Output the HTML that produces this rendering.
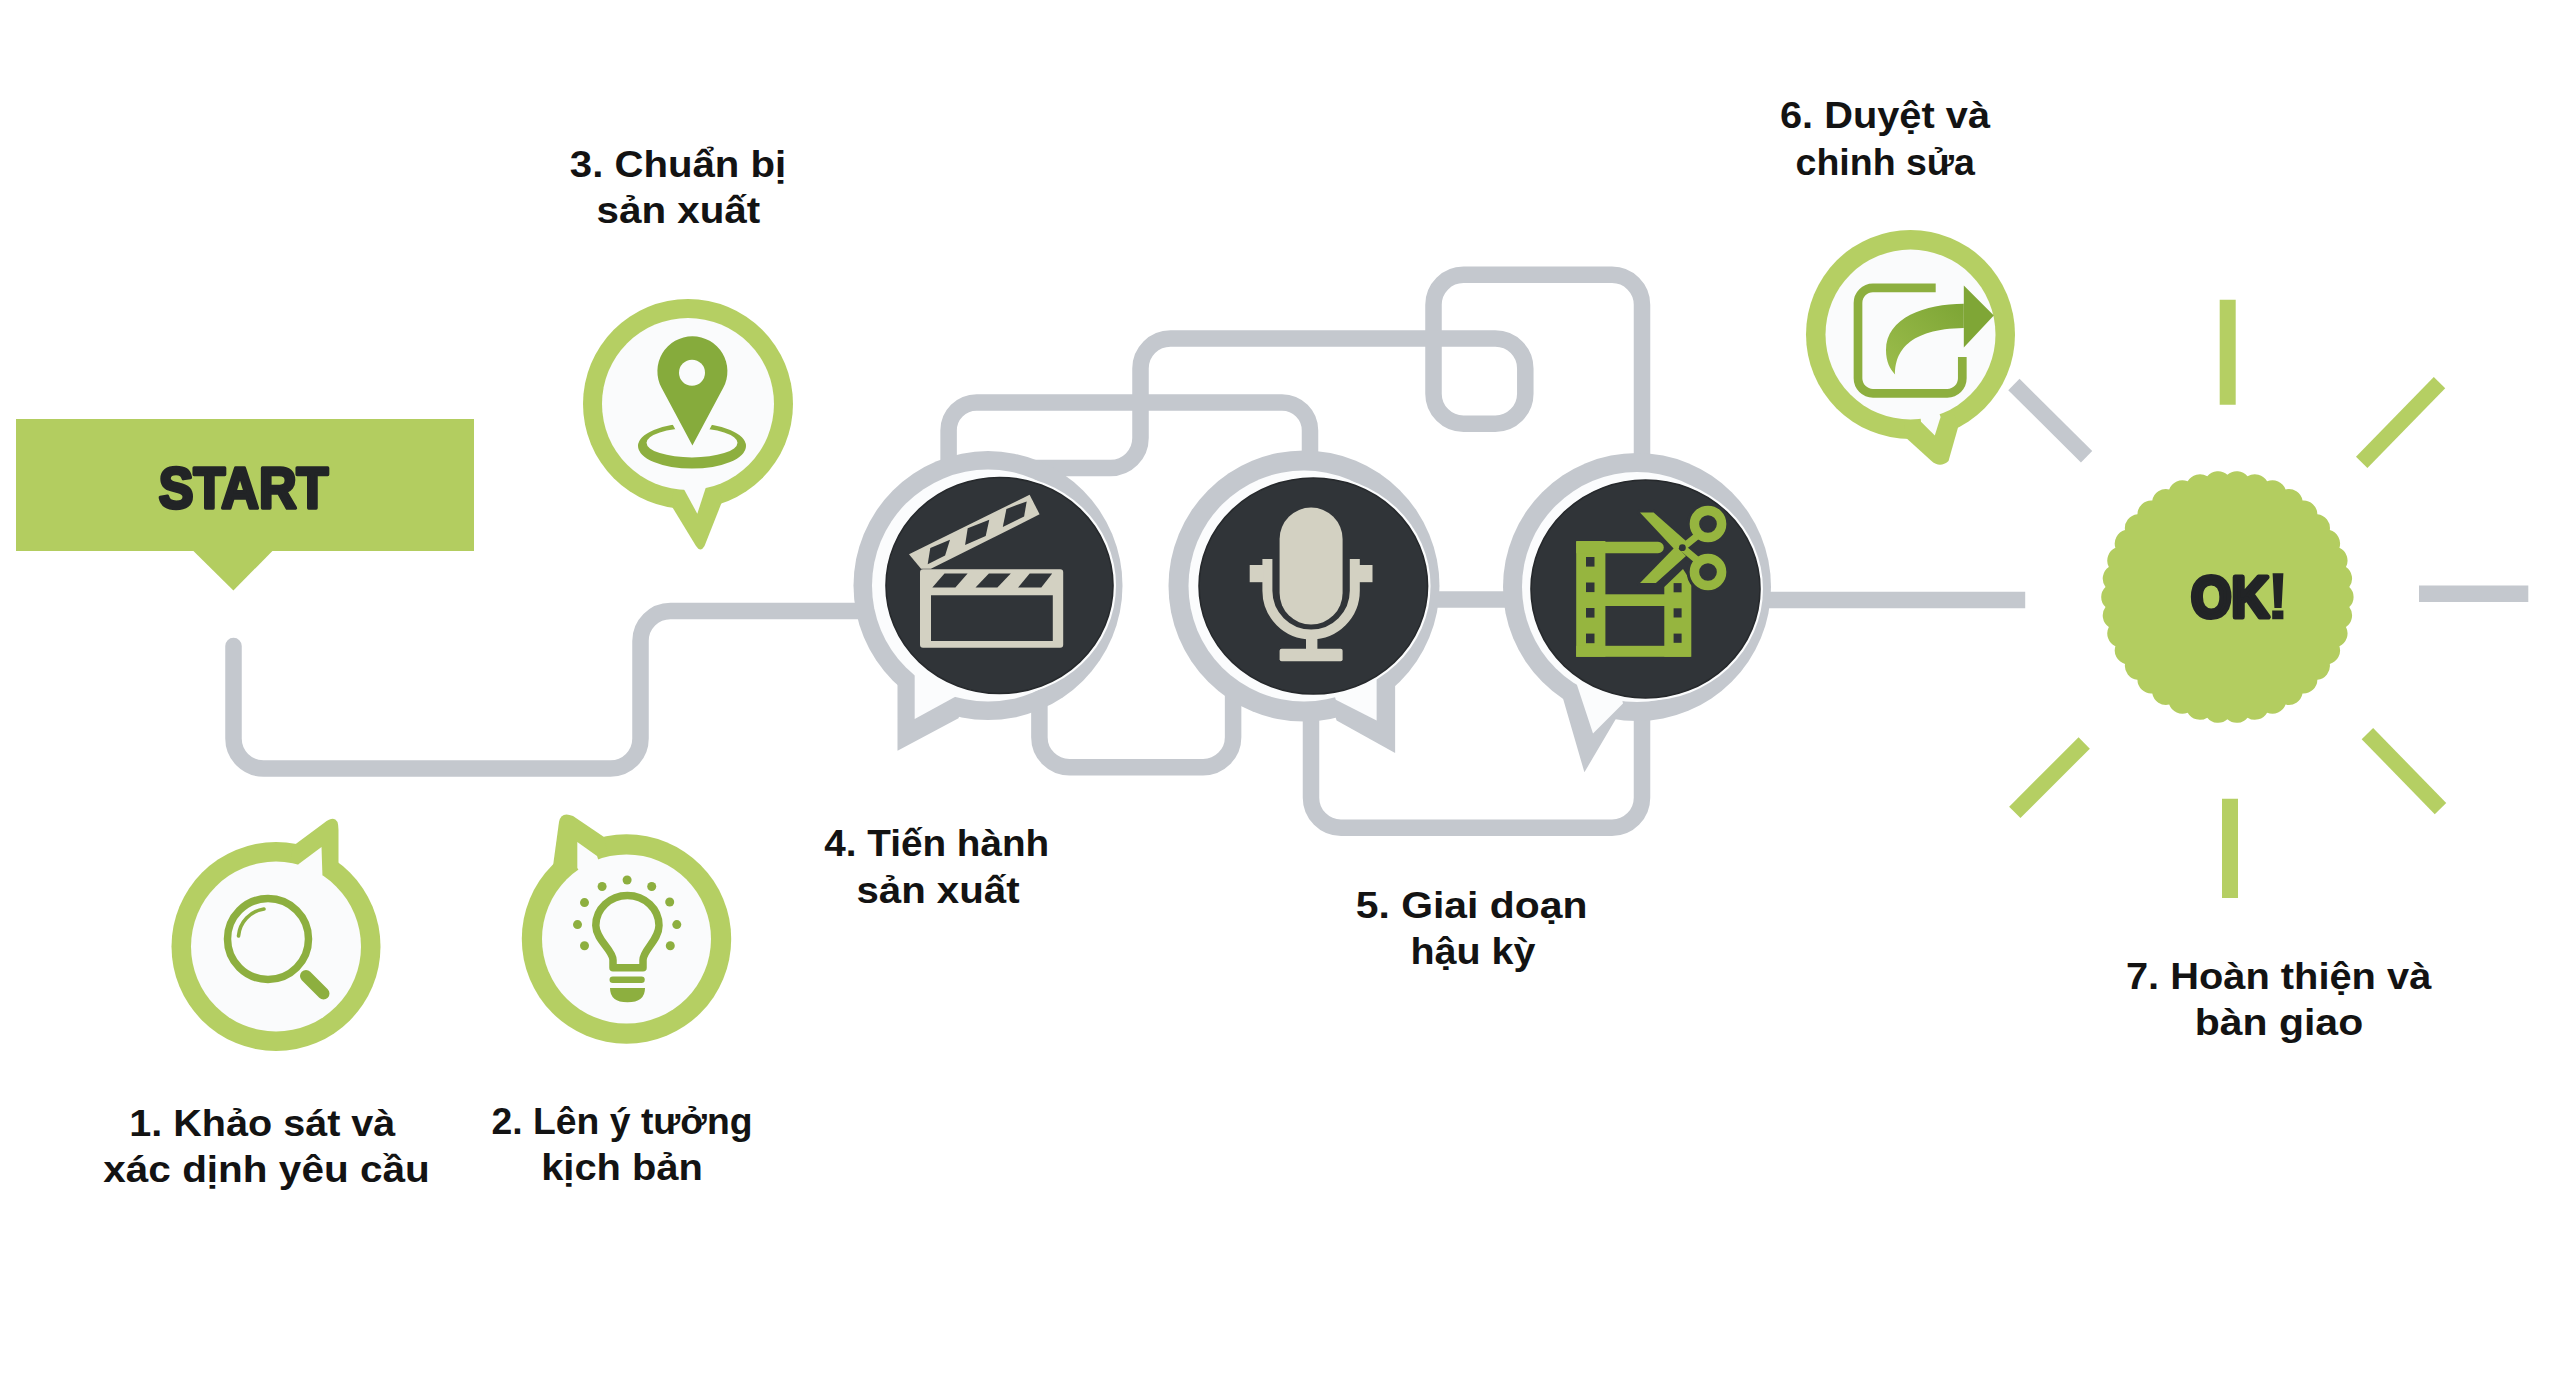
<!DOCTYPE html>
<html><head><meta charset="utf-8"><title>Quy trinh san xuat video</title>
<style>
html,body{margin:0;padding:0;background:#FFFFFF;}
body{width:2560px;height:1396px;overflow:hidden;font-family:"Liberation Sans",sans-serif;}
svg{display:block;}
</style></head><body>
<svg width="2560" height="1396" viewBox="0 0 2560 1396" font-family="'Liberation Sans', sans-serif"><rect x="16" y="419" width="458" height="132" fill="#B3CD60"/>
<path d="M192.4 550 L273.4 550 L233.4 590.5 Z" fill="#B3CD60"/>
<text x="243.5" y="507.7" font-size="57.5" font-weight="bold" text-anchor="middle" fill="#222426" stroke="#222426" stroke-width="3.6" stroke-linejoin="round" textLength="169.4" lengthAdjust="spacingAndGlyphs">START</text>
<path d="M233.5 646 L233.5 738.5 A30 30 0 0 0 263.5 768.5 L610.5 768.5 A30 30 0 0 0 640.5 738.5 L640.5 641 A30 30 0 0 1 670.5 611 L870 611" fill="none" stroke="#C4C8CE" stroke-width="16.5" stroke-linecap="round" stroke-linejoin="round"/>
<path d="M948.6 470 L948.6 430.5 A28 28 0 0 1 976.6 402.5 L1282 402.5 A28 28 0 0 1 1310 430.5 L1310 470" fill="none" stroke="#C4C8CE" stroke-width="16.5" stroke-linecap="butt" stroke-linejoin="round"/>
<path d="M1025 468 L1110.5 468 A30 30 0 0 0 1140.5 438 L1140.5 368.5 A30 30 0 0 1 1170.5 338.5 L1495.3 338.5 A30 30 0 0 1 1525.3 368.5 L1525.3 393.7 A30 30 0 0 1 1495.3 423.7 L1463.5 423.7 A30 30 0 0 1 1433.5 393.7 L1433.5 304.8 A30 30 0 0 1 1463.5 274.8 L1612 274.8 A30 30 0 0 1 1642 304.8 L1642 470" fill="none" stroke="#C4C8CE" stroke-width="16.5" stroke-linecap="butt" stroke-linejoin="round"/>
<path d="M1039.4 690 L1039.4 737.2 A30 30 0 0 0 1069.4 767.2 L1203.1 767.2 A30 30 0 0 0 1233.1 737.2 L1233.1 690" fill="none" stroke="#C4C8CE" stroke-width="16.5" stroke-linecap="butt" stroke-linejoin="round"/>
<path d="M1311 700 L1311 797.7 A30 30 0 0 0 1341 827.7 L1612 827.7 A30 30 0 0 0 1642 797.7 L1642 700" fill="none" stroke="#C4C8CE" stroke-width="16.5" stroke-linecap="butt" stroke-linejoin="round"/>
<path d="M1430 599.5 L1520 599.5" fill="none" stroke="#C4C8CE" stroke-width="16.5" stroke-linecap="butt" stroke-linejoin="round"/>
<path d="M1760 599.9 L2025.2 599.9" fill="none" stroke="#C4C8CE" stroke-width="16.5" stroke-linecap="butt" stroke-linejoin="round"/>
<path d="M2419 593.7 L2528.3 593.7" stroke="#C4C8CE" stroke-width="16.4" fill="none"/>
<path d="M2013.9 384.5 L2086.6 456.7" stroke="#C4C8CE" stroke-width="16" fill="none"/>
<circle cx="988" cy="585.6" r="134.5" fill="#C4C8CE"/>
<path d="M988 585.6 L897.5 680 L897.5 750.8 L958.5 718.2 L965 700 Z" fill="#C4C8CE"/>
<circle cx="988" cy="585.6" r="116" fill="#FBFCFD"/>
<path d="M988 585.6 L914.7 670 L914.7 719.1 L958.5 695 L960 690 Z" fill="#FBFCFD"/>
<ellipse cx="999.5" cy="585.5" rx="116.5" ry="111" fill="#FBFCFD"/>
<ellipse cx="999.5" cy="585.5" rx="113.5" ry="108" fill="#303438" stroke="#26292C" stroke-width="1.6"/>
<circle cx="1304" cy="586" r="135.5" fill="#C4C8CE"/>
<path d="M1304 586 L1395.1 680 L1395.1 753.1 L1336.6 720.5 L1330 700 Z" fill="#C4C8CE"/>
<circle cx="1304" cy="586" r="115.5" fill="#FBFCFD"/>
<path d="M1304 586 L1376.6 675 L1376.6 720.5 L1335.8 699.8 L1333 690 Z" fill="#FBFCFD"/>
<ellipse cx="1313.3" cy="586" rx="117.25" ry="111" fill="#FBFCFD"/>
<ellipse cx="1313.3" cy="586" rx="114.25" ry="108" fill="#303438" stroke="#26292C" stroke-width="1.6"/>
<circle cx="1637" cy="587" r="134" fill="#C4C8CE"/>
<path d="M1637 587 L1562 695 L1584.4 772.3 L1623.9 705.2 L1620 690 Z" fill="#C4C8CE"/>
<circle cx="1637" cy="587" r="115" fill="#FBFCFD"/>
<path d="M1637 587 L1577 685 L1593 733.6 L1623 703.5 L1620 690 Z" fill="#FBFCFD"/>
<ellipse cx="1645.5" cy="589" rx="117.5" ry="112" fill="#FBFCFD"/>
<ellipse cx="1645.5" cy="589" rx="114.5" ry="109" fill="#303438" stroke="#26292C" stroke-width="1.6"/>
<path d="M923 569.2 H1060.2 Q1063.2 569.2 1063.2 572.2 V644.7 Q1063.2 647.7 1060.2 647.7 H923 Q920 647.7 920 644.7 V572.2 Q920 569.2 923 569.2 Z M931 595.3 V641 H1052.8 V595.3 Z" fill="#D3D1C2" fill-rule="evenodd"/><path d="M932.3 587.4 L955.4 587.4 L967.6 573.4 L944.5 573.4 Z" fill="#303438"/><path d="M975.5 587.4 L997.4 587.4 L1010.8 573.4 L988.9 573.4 Z" fill="#303438"/><path d="M1018.1 587.4 L1041.3 587.4 L1052.2 573.4 L1029.7 573.4 Z" fill="#303438"/><path d="M909 554.3 L1029.6 494.7 L1039.6 514.3 L930.9 568.8 L921 568.8 Z" fill="#D3D1C2"/><path d="M927.7 564.3 L930.3 547.9 L950 539.8 L945.1 555.6 Z" fill="#303438"/><path d="M965.1 545 L967.7 528.2 L989.3 519.8 L985.7 535.9 Z" fill="#303438"/><path d="M1002.8 526.9 L1006.4 508.9 L1026.7 501.4 L1024.1 516.6 Z" fill="#303438"/>
<rect x="1279.6" y="507.6" width="63" height="117" rx="31.5" fill="#D3D1C2"/>
<path d="M1267.4 559 V590.8 A43.7 43.7 0 0 0 1354.8 590.8 V559" fill="none" stroke="#D3D1C2" stroke-width="10"/>
<rect x="1249.7" y="565" width="14" height="17.2" fill="#D3D1C2"/>
<rect x="1358.5" y="565" width="14" height="17.2" fill="#D3D1C2"/>
<rect x="1306" y="632" width="11.4" height="18" fill="#D3D1C2"/>
<rect x="1279.6" y="648.7" width="63" height="12.6" rx="2" fill="#D3D1C2"/>
<rect x="1576.2" y="541" width="29.2" height="115.8" fill="#96B53F"/><path d="M1576.2 541.7 H1658 A5.8 5.8 0 0 1 1658 553.3 H1576.2 Z" fill="#96B53F"/><rect x="1605" y="594.3" width="60" height="11.7" fill="#96B53F"/><rect x="1576.2" y="645.8" width="114.5" height="11" fill="#96B53F"/><path d="M1664.3 587 L1683 569 L1691.3 582 L1691.3 656.8 L1664.3 656.8 Z" fill="#96B53F"/><rect x="1586" y="557" width="8.5" height="9.6" fill="#303438"/><rect x="1586" y="582.5" width="8.5" height="9.6" fill="#303438"/><rect x="1586" y="608" width="8.5" height="9.6" fill="#303438"/><rect x="1586" y="633.6" width="8.5" height="9.6" fill="#303438"/><rect x="1673.6" y="583.1" width="8" height="9.2" fill="#303438"/><rect x="1673.6" y="608.3" width="8" height="9.2" fill="#303438"/><rect x="1673.6" y="633.6" width="8" height="9.2" fill="#303438"/><g fill="#303438" stroke="#303438" stroke-width="6" stroke-linejoin="round"><path d="M1640 512.4 L1653.6 512.4 L1686 541 L1676 551 Z"/><path d="M1640 583.1 L1655.9 583.1 L1686 556 L1676 546 Z"/><path d="M1682.4 547.7 L1697 536 M1682.4 547.7 L1697 560" stroke-width="13" fill="none"/><circle cx="1708" cy="524" r="13.6" fill="none" stroke-width="15.5"/><circle cx="1708" cy="572" r="13.6" fill="none" stroke-width="15.5"/></g><g fill="#96B53F" stroke="#96B53F" stroke-width="0"><path d="M1640 512.4 L1653.6 512.4 L1686 541 L1676 551 Z"/><path d="M1640 583.1 L1655.9 583.1 L1686 556 L1676 546 Z"/><path d="M1682.4 547.7 L1697 536 M1682.4 547.7 L1697 560" stroke-width="7" fill="none"/><circle cx="1708" cy="524" r="13.6" fill="none" stroke-width="9.5"/><circle cx="1708" cy="572" r="13.6" fill="none" stroke-width="9.5"/></g><circle cx="1682.4" cy="547.7" r="3.4" fill="#303438"/>
<circle cx="276" cy="946.5" r="104.5" fill="#B5CF63"/>
<path d="M276 946.5 L293 846 L324 823 Q338.5 812 338.5 830 L338.5 866 Z" fill="#B5CF63"/>
<circle cx="276" cy="946.5" r="85" fill="#FAFBFC"/>
<path d="M276 946.5 L298.4 864.2 L321.5 847.1 L322.4 874.2 Z" fill="#FAFBFC"/>
<circle cx="626.5" cy="939" r="104.7" fill="#B5CF63"/>
<path d="M626.5 939 L553 866 L559 822 Q561 811 573 816 L604 837 Z" fill="#B5CF63"/>
<circle cx="626.5" cy="939" r="84.5" fill="#FAFBFC"/>
<path d="M626.5 939 L577.3 868 L577.3 842 L597 856 Z" fill="#FAFBFC"/>
<circle cx="688" cy="404" r="105" fill="#B5CF63"/>
<path d="M688 404 L671 505 L696 546 Q700.5 553 704.5 546 L722.5 500.5 Z" fill="#B5CF63"/>
<circle cx="688" cy="404" r="86" fill="#FAFBFC"/>
<path d="M688 404 L683.7 488.7 L697.3 513.7 L705.9 487.2 Z" fill="#FAFBFC"/>
<circle cx="1910.5" cy="334.5" r="104.5" fill="#B5CF63"/>
<path d="M1910.5 334.5 L1904 436 L1931.5 461 Q1940 468.5 1948.5 461 L1959 424 Z" fill="#B5CF63"/>
<circle cx="1910.5" cy="334.5" r="85" fill="#FAFBFC"/>
<path d="M1910.5 334.5 L1921 421.8 L1934.8 435.4 L1940.6 417 Z" fill="#FAFBFC"/>
<circle cx="268" cy="939" r="40.5" fill="none" stroke="#8DAF3F" stroke-width="7.5"/>
<path d="M238.5 936 A30 30 0 0 1 264 909" fill="none" stroke="#8DAF3F" stroke-width="3.6" stroke-linecap="round"/>
<path d="M306 976 L323.5 993.5" fill="none" stroke="#8DAF3F" stroke-width="12" stroke-linecap="round"/>
<path d="M613 967.7 V960 C613 950 596 940 595.8 925.5 A31.6 30 0 0 1 659 925.5 C659 940 643 950 643 960 V967.7 Z" fill="none" stroke="#8DAF3F" stroke-width="7.5" stroke-linejoin="round"/>
<path d="M612.8 979.8 H641.5" stroke="#8DAF3F" stroke-width="6.5" stroke-linecap="round"/>
<path d="M610 988 H645 Q645 1002.3 627.5 1002.3 Q610 1002.3 610 988 Z" fill="#8DAF3F"/>
<circle cx="627.1" cy="880" r="4.5" fill="#8DAF3F"/>
<circle cx="602.1" cy="886.5" r="4.5" fill="#8DAF3F"/>
<circle cx="651.7" cy="886.5" r="4.5" fill="#8DAF3F"/>
<circle cx="584.5" cy="902.6" r="4.5" fill="#8DAF3F"/>
<circle cx="669.7" cy="902" r="4.5" fill="#8DAF3F"/>
<circle cx="577.5" cy="924.6" r="4.5" fill="#8DAF3F"/>
<circle cx="676.8" cy="924.6" r="4.5" fill="#8DAF3F"/>
<circle cx="584.5" cy="945.7" r="4.5" fill="#8DAF3F"/>
<circle cx="670.3" cy="945.7" r="4.5" fill="#8DAF3F"/>
<path d="M638 446 A54 22.6 0 1 0 746 446 A54 22.6 0 1 0 638 446 Z M646.5 442.8 A45.5 14.6 0 1 1 737.5 442.8 A45.5 14.6 0 1 1 646.5 442.8 Z" fill="#8DAF3F" fill-rule="evenodd"/>
<path d="M661.54 387.81 A35 35 0 1 1 723.26 387.81 L692.4 445.5 Z" fill="#FAFBFC" stroke="#FAFBFC" stroke-width="15" stroke-linejoin="round"/>
<path d="M661.54 387.81 A35 35 0 1 1 723.26 387.81 L692.4 445.5 Z" fill="#86AB3C"/>
<circle cx="692" cy="372.7" r="13" fill="#FAFBFC"/>
<path d="M1935.7 287.9 H1873 A15 15 0 0 0 1858 302.9 V378.3 A15 15 0 0 0 1873 393.3 H1947.3 A15 15 0 0 0 1962.3 378.3 V357" fill="none" stroke="#8DAF3F" stroke-width="8.7"/>
<defs><linearGradient id="ag" x1="0" y1="1" x2="1" y2="0"><stop offset="0" stop-color="#9CBD4C"/><stop offset="1" stop-color="#7DA535"/></linearGradient></defs>
<path d="M1963.8 303.8 C1925 303.8 1886 318 1886 350 C1886 362 1890 369 1895.1 374.4 C1895 352 1908 329 1963.8 328 Z" fill="url(#ag)"/>
<path d="M1963.8 285.4 L1993.8 315.4 L1963.8 347.4 Z" fill="#7FA636"/>
<path d="M2227.7 299.7 L2227.7 404.7" stroke="#B5CF63" stroke-width="16" fill="none"/>
<path d="M2361.7 462.4 L2439.5 382.7" stroke="#B5CF63" stroke-width="16" fill="none"/>
<path d="M2014.8 812.3 L2084.2 743" stroke="#B5CF63" stroke-width="16" fill="none"/>
<path d="M2230 798.75 L2230 898" stroke="#B5CF63" stroke-width="16" fill="none"/>
<path d="M2367.4 733.6 L2440.5 808.6" stroke="#B5CF63" stroke-width="16" fill="none"/>
<path d="M2227.4 474.7 A13.97 13.97 0 0 1 2247.53 476.37 A13.97 13.97 0 0 1 2267.11 481.33 A13.97 13.97 0 0 1 2285.61 489.44 A13.97 13.97 0 0 1 2302.52 500.49 A13.97 13.97 0 0 1 2317.38 514.17 A13.97 13.97 0 0 1 2329.79 530.11 A13.97 13.97 0 0 1 2339.4 547.87 A13.97 13.97 0 0 1 2345.96 566.98 A13.97 13.97 0 0 1 2349.28 586.9 A13.97 13.97 0 0 1 2349.28 607.1 A13.97 13.97 0 0 1 2345.96 627.02 A13.97 13.97 0 0 1 2339.4 646.13 A13.97 13.97 0 0 1 2329.79 663.89 A13.97 13.97 0 0 1 2317.38 679.83 A13.97 13.97 0 0 1 2302.52 693.51 A13.97 13.97 0 0 1 2285.61 704.56 A13.97 13.97 0 0 1 2267.11 712.67 A13.97 13.97 0 0 1 2247.53 717.63 A13.97 13.97 0 0 1 2227.4 719.3 A13.97 13.97 0 0 1 2207.27 717.63 A13.97 13.97 0 0 1 2187.69 712.67 A13.97 13.97 0 0 1 2169.19 704.56 A13.97 13.97 0 0 1 2152.28 693.51 A13.97 13.97 0 0 1 2137.42 679.83 A13.97 13.97 0 0 1 2125.01 663.89 A13.97 13.97 0 0 1 2115.4 646.13 A13.97 13.97 0 0 1 2108.84 627.02 A13.97 13.97 0 0 1 2105.52 607.1 A13.97 13.97 0 0 1 2105.52 586.9 A13.97 13.97 0 0 1 2108.84 566.98 A13.97 13.97 0 0 1 2115.4 547.87 A13.97 13.97 0 0 1 2125.01 530.11 A13.97 13.97 0 0 1 2137.42 514.17 A13.97 13.97 0 0 1 2152.28 500.49 A13.97 13.97 0 0 1 2169.19 489.44 A13.97 13.97 0 0 1 2187.69 481.33 A13.97 13.97 0 0 1 2207.27 476.37 A13.97 13.97 0 0 1 2227.4 474.7 Z" fill="#B3CD60"/>
<text x="2230" y="616.9" font-size="57" font-weight="bold" text-anchor="middle" fill="#222426" stroke="#222426" stroke-width="5" stroke-linejoin="round" textLength="78" lengthAdjust="spacingAndGlyphs">OK</text>
<path d="M2272.6 573.3 H2283.4 L2281.6 608 H2274.4 Z M2272.2 610.6 H2283.4 V619.2 H2272.2 Z" fill="#222426"/>
<text x="262.3" y="1135.7" font-size="37.5" font-weight="bold" text-anchor="middle" fill="#131313" textLength="266" lengthAdjust="spacingAndGlyphs">1. Khảo sát và</text>
<text x="266.5" y="1182.1" font-size="37.5" font-weight="bold" text-anchor="middle" fill="#131313" textLength="326.4" lengthAdjust="spacingAndGlyphs">xác dịnh yêu cầu</text>
<text x="622" y="1134.2" font-size="37.5" font-weight="bold" text-anchor="middle" fill="#131313" textLength="261" lengthAdjust="spacingAndGlyphs">2. Lên ý tưởng</text>
<text x="622" y="1180.2" font-size="37.5" font-weight="bold" text-anchor="middle" fill="#131313" textLength="161.6" lengthAdjust="spacingAndGlyphs">kịch bản</text>
<text x="678" y="177" font-size="37.5" font-weight="bold" text-anchor="middle" fill="#131313" textLength="216.3" lengthAdjust="spacingAndGlyphs">3. Chuẩn bị</text>
<text x="678.4" y="223" font-size="37.5" font-weight="bold" text-anchor="middle" fill="#131313" textLength="163.7" lengthAdjust="spacingAndGlyphs">sản xuất</text>
<text x="936.7" y="855.9" font-size="37.5" font-weight="bold" text-anchor="middle" fill="#131313" textLength="225" lengthAdjust="spacingAndGlyphs">4. Tiến hành</text>
<text x="938" y="903" font-size="37.5" font-weight="bold" text-anchor="middle" fill="#131313" textLength="163.2" lengthAdjust="spacingAndGlyphs">sản xuất</text>
<text x="1471.6" y="917.6" font-size="37.5" font-weight="bold" text-anchor="middle" fill="#131313" textLength="231.7" lengthAdjust="spacingAndGlyphs">5. Giai doạn</text>
<text x="1473" y="964" font-size="37.5" font-weight="bold" text-anchor="middle" fill="#131313" textLength="125" lengthAdjust="spacingAndGlyphs">hậu kỳ</text>
<text x="1885" y="128.3" font-size="37.5" font-weight="bold" text-anchor="middle" fill="#131313" textLength="210" lengthAdjust="spacingAndGlyphs">6. Duyệt và</text>
<text x="1885.2" y="175.2" font-size="37.5" font-weight="bold" text-anchor="middle" fill="#131313" textLength="179.3" lengthAdjust="spacingAndGlyphs">chinh sửa</text>
<text x="2278.6" y="988.5" font-size="37.5" font-weight="bold" text-anchor="middle" fill="#131313" textLength="305.4" lengthAdjust="spacingAndGlyphs">7. Hoàn thiện và</text>
<text x="2279" y="1035" font-size="37.5" font-weight="bold" text-anchor="middle" fill="#131313" textLength="168.3" lengthAdjust="spacingAndGlyphs">bàn giao</text></svg>
</body></html>
